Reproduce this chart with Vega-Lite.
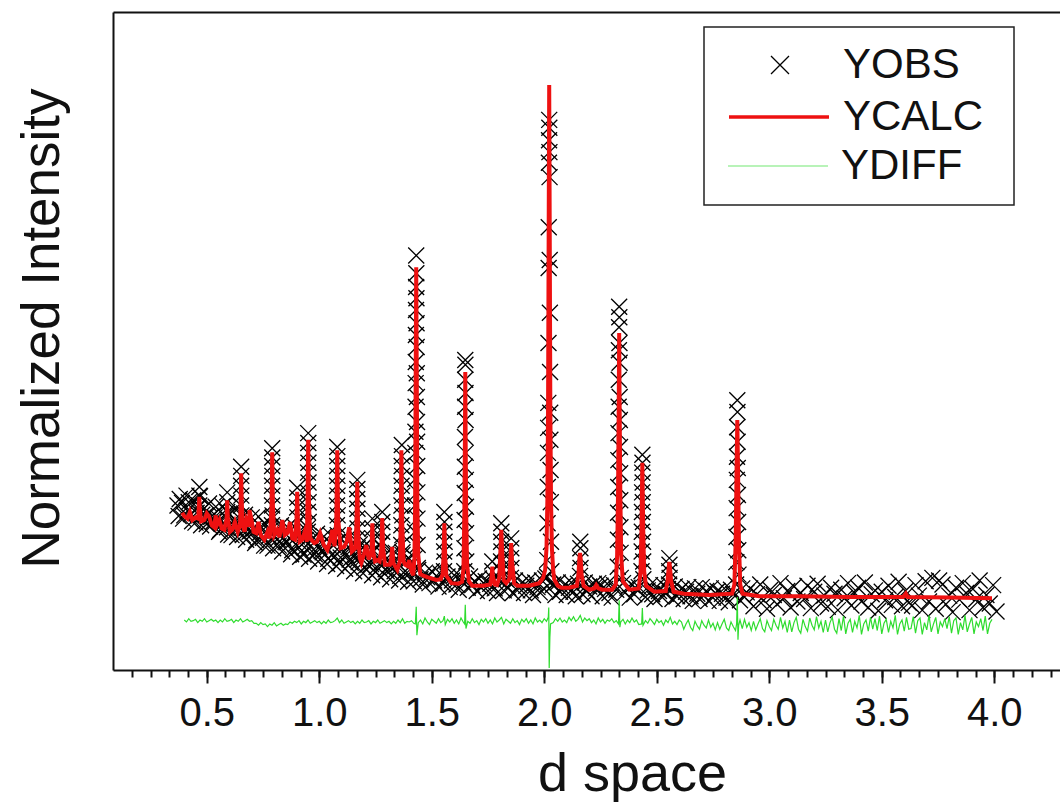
{
"$schema":"https://vega.github.io/schema/vega-lite/v6.json",
"width":947,"height":658,
"autosize":{"type":"none"},
"padding":{"left":113,"top":12,"right":0,"bottom":134},
"background":"white",
"config":{"view":{"stroke":null},"font":"Liberation Sans"},
"datasets":{
"obs":[
{"d":0.37,"y":25.0},{"d":0.38,"y":26.0},{"d":0.39,"y":25.4},{"d":0.40,"y":23.5},{"d":0.41,"y":26.5},{"d":0.42,"y":25.5},{"d":0.43,"y":23.7},{"d":0.44,"y":25.8},{"d":0.45,"y":22.4},{"d":0.46,"y":24.6},{"d":0.47,"y":26.4},{"d":0.48,"y":23.6},{"d":0.49,"y":24.6},{"d":0.50,"y":22.2},{"d":0.51,"y":25.3},{"d":0.52,"y":23.3},{"d":0.53,"y":22.6},{"d":0.54,"y":24.8},{"d":0.55,"y":23.1},{"d":0.56,"y":21.3},{"d":0.57,"y":24.9},{"d":0.58,"y":23.4},{"d":0.59,"y":21.7},{"d":0.60,"y":23.8},{"d":0.61,"y":20.5},{"d":0.62,"y":22.7},{"d":0.63,"y":24.6},{"d":0.64,"y":21.8},{"d":0.65,"y":22.9},{"d":0.66,"y":20.5},{"d":0.67,"y":23.6},{"d":0.68,"y":21.6},{"d":0.69,"y":21.0},{"d":0.70,"y":23.2},{"d":0.71,"y":21.5},{"d":0.72,"y":19.7},{"d":0.73,"y":23.3},{"d":0.74,"y":21.8},{"d":0.75,"y":20.1},{"d":0.76,"y":22.2},{"d":0.77,"y":18.9},{"d":0.78,"y":21.1},{"d":0.79,"y":23.0},{"d":0.80,"y":20.2},{"d":0.81,"y":21.3},{"d":0.82,"y":18.9},{"d":0.83,"y":22.0},{"d":0.84,"y":20.1},{"d":0.85,"y":19.5},{"d":0.86,"y":21.7},{"d":0.87,"y":20.0},{"d":0.88,"y":18.2},{"d":0.89,"y":21.8},{"d":0.90,"y":20.3},{"d":0.91,"y":18.6},{"d":0.92,"y":20.7},{"d":0.93,"y":17.5},{"d":0.94,"y":19.7},{"d":0.95,"y":21.6},{"d":0.96,"y":18.8},{"d":0.97,"y":19.9},{"d":0.98,"y":17.6},{"d":0.99,"y":20.7},{"d":1.00,"y":18.7},{"d":1.01,"y":18.1},{"d":1.02,"y":20.3},{"d":1.03,"y":18.7},{"d":1.04,"y":16.9},{"d":1.05,"y":20.5},{"d":1.06,"y":19.0},{"d":1.07,"y":17.3},{"d":1.08,"y":19.5},{"d":1.09,"y":16.2},{"d":1.10,"y":18.4},{"d":1.11,"y":20.3},{"d":1.12,"y":17.5},{"d":1.13,"y":18.7},{"d":1.14,"y":16.3},{"d":1.15,"y":19.4},{"d":1.16,"y":17.4},{"d":1.17,"y":16.8},{"d":1.18,"y":19.1},{"d":1.19,"y":17.4},{"d":1.20,"y":15.6},{"d":1.21,"y":19.2},{"d":1.22,"y":17.7},{"d":1.23,"y":16.1},{"d":1.24,"y":18.2},{"d":1.25,"y":14.9},{"d":1.26,"y":17.1},{"d":1.27,"y":19.0},{"d":1.28,"y":16.3},{"d":1.29,"y":17.4},{"d":1.30,"y":15.0},{"d":1.31,"y":18.1},{"d":1.32,"y":16.1},{"d":1.33,"y":15.6},{"d":1.34,"y":17.8},{"d":1.35,"y":16.1},{"d":1.36,"y":14.3},{"d":1.37,"y":17.9},{"d":1.38,"y":16.5},{"d":1.39,"y":14.8},{"d":1.40,"y":16.9},
{"d":0.375,"y":23.4},{"d":0.395,"y":23.0},{"d":0.415,"y":24.2},{"d":0.435,"y":22.6},{"d":0.455,"y":23.9},{"d":0.475,"y":22.0},{"d":0.495,"y":23.5},{"d":0.515,"y":21.8},{"d":0.535,"y":23.2},{"d":0.555,"y":21.0},{"d":0.575,"y":22.4},{"d":0.595,"y":20.6},{"d":0.615,"y":22.1},{"d":0.635,"y":20.2},{"d":0.655,"y":21.6},{"d":0.675,"y":19.8},{"d":0.695,"y":21.2},{"d":0.715,"y":19.3},{"d":0.735,"y":20.8},{"d":0.755,"y":18.9},{"d":0.775,"y":20.3},{"d":0.795,"y":18.5},{"d":0.815,"y":19.9},{"d":0.835,"y":18.0},{"d":0.855,"y":19.4},{"d":0.875,"y":17.6},{"d":0.895,"y":19.1},{"d":0.915,"y":17.2},{"d":0.935,"y":18.6},{"d":0.955,"y":16.9},{"d":0.975,"y":18.3},{"d":0.995,"y":16.5},{"d":1.015,"y":17.9},{"d":1.035,"y":16.1},{"d":1.055,"y":17.5},{"d":1.075,"y":15.8},{"d":1.095,"y":17.1},{"d":1.115,"y":15.4},{"d":1.135,"y":16.8},{"d":1.155,"y":15.0},{"d":1.175,"y":16.4},{"d":1.195,"y":14.7},{"d":1.215,"y":16.0},{"d":1.235,"y":14.4},{"d":1.255,"y":15.7},{"d":1.275,"y":14.1},{"d":1.295,"y":15.3},{"d":1.315,"y":13.8},{"d":1.335,"y":15.0},{"d":1.355,"y":13.6},{"d":1.375,"y":14.8},{"d":1.395,"y":13.4},
{"d":1.41,"y":15.0},{"d":1.42,"y":13.5},{"d":1.44,"y":15.2},{"d":1.45,"y":13.8},{"d":1.46,"y":13.0},{"d":1.47,"y":14.8},{"d":1.48,"y":14.1},{"d":1.49,"y":13.2},{"d":1.50,"y":15.0},{"d":1.51,"y":13.6},{"d":1.52,"y":14.3},{"d":1.53,"y":12.7},{"d":1.54,"y":14.6},{"d":1.55,"y":13.1},{"d":1.57,"y":14.2},{"d":1.58,"y":12.6},{"d":1.59,"y":13.6},{"d":1.60,"y":14.4},{"d":1.61,"y":13.0},{"d":1.62,"y":12.2},{"d":1.63,"y":14.1},{"d":1.64,"y":13.3},{"d":1.66,"y":12.5},{"d":1.67,"y":14.2},{"d":1.68,"y":12.9},{"d":1.69,"y":13.5},{"d":1.70,"y":12.0},{"d":1.71,"y":13.9},{"d":1.72,"y":12.5},{"d":1.73,"y":13.2},{"d":1.74,"y":13.5},{"d":1.75,"y":12.0},{"d":1.76,"y":13.1},{"d":1.77,"y":13.9},{"d":1.78,"y":12.4},{"d":1.79,"y":11.7},{"d":1.80,"y":13.6},{"d":1.82,"y":12.1},{"d":1.83,"y":13.8},{"d":1.84,"y":12.5},{"d":1.86,"y":11.7},{"d":1.87,"y":13.6},{"d":1.88,"y":12.1},{"d":1.89,"y":12.9},{"d":1.90,"y":13.2},{"d":1.91,"y":11.7},{"d":1.92,"y":12.8},{"d":1.93,"y":13.6},{"d":1.94,"y":12.1},{"d":1.95,"y":11.4},{"d":1.96,"y":13.3},{"d":1.97,"y":12.6},{"d":1.98,"y":11.8},{"d":1.99,"y":13.6},{"d":2.00,"y":12.3},{"d":2.005,"y":13.9},{"d":2.038,"y":12.9},{"d":2.04,"y":13.0},{"d":2.05,"y":11.4},{"d":2.06,"y":13.3},{"d":2.07,"y":11.9},{"d":2.08,"y":12.6},{"d":2.09,"y":12.9},{"d":2.10,"y":11.4},{"d":2.11,"y":12.5},{"d":2.12,"y":13.3},{"d":2.13,"y":11.9},{"d":2.14,"y":11.2},{"d":2.15,"y":13.1},{"d":2.17,"y":11.5},{"d":2.18,"y":13.3},{"d":2.19,"y":12.0},{"d":2.20,"y":12.7},{"d":2.21,"y":11.2},{"d":2.22,"y":13.1},{"d":2.23,"y":12.4},{"d":2.24,"y":13.2},{"d":2.25,"y":12.8},{"d":2.26,"y":11.2},{"d":2.27,"y":12.3},{"d":2.28,"y":13.1},{"d":2.29,"y":11.7},{"d":2.30,"y":11.0},{"d":2.31,"y":12.9},{"d":2.32,"y":12.2},{"d":2.35,"y":13.2},{"d":2.36,"y":11.8},{"d":2.37,"y":12.5},{"d":2.38,"y":11.0},{"d":2.39,"y":12.9},{"d":2.40,"y":11.5},{"d":2.41,"y":12.3},{"d":2.42,"y":12.6},{"d":2.45,"y":11.1},{"d":2.46,"y":12.1},{"d":2.47,"y":12.9},{"d":2.48,"y":11.5},{"d":2.49,"y":10.8},{"d":2.50,"y":12.7},{"d":2.51,"y":12.0},{"d":2.52,"y":11.2},{"d":2.53,"y":12.9},{"d":2.54,"y":11.6},{"d":2.55,"y":12.3},{"d":2.57,"y":10.8},{"d":2.58,"y":12.7},{"d":2.59,"y":11.2},{"d":2.60,"y":12.0},{"d":2.61,"y":12.3},{"d":2.62,"y":10.8},{"d":2.63,"y":11.9},{"d":2.64,"y":12.6},{"d":2.65,"y":11.2},{"d":2.66,"y":10.5},{"d":2.67,"y":12.4},{"d":2.68,"y":11.6},{"d":2.69,"y":10.8},{"d":2.70,"y":12.6},{"d":2.71,"y":11.3},{"d":2.72,"y":12.0},{"d":2.73,"y":10.5},{"d":2.74,"y":12.4},{"d":2.75,"y":11.0},{"d":2.76,"y":11.7},{"d":2.77,"y":12.0},{"d":2.78,"y":10.5},{"d":2.79,"y":11.6},{"d":2.80,"y":12.4},{"d":2.81,"y":11.0},{"d":2.82,"y":10.3},{"d":2.83,"y":12.2},{"d":2.84,"y":11.5},{"d":2.87,"y":10.6},{"d":2.88,"y":12.4},{"d":2.89,"y":11.1},{"d":2.90,"y":11.8},
{"d":2.915,"y":12.4},{"d":2.93,"y":9.7},{"d":2.945,"y":11.5},{"d":2.96,"y":13.0},{"d":2.975,"y":10.6},{"d":2.99,"y":9.3},{"d":3.005,"y":12.2},{"d":3.02,"y":11.4},{"d":3.035,"y":10.0},{"d":3.05,"y":13.2},{"d":3.065,"y":10.9},{"d":3.08,"y":12.0},{"d":3.095,"y":9.5},{"d":3.11,"y":12.7},{"d":3.125,"y":10.4},{"d":3.14,"y":11.7},{"d":3.155,"y":10.8},{"d":3.17,"y":12.8},{"d":3.185,"y":9.4},{"d":3.2,"y":11.9},{"d":3.215,"y":13.1},{"d":3.23,"y":10.1},{"d":3.245,"y":11.3},{"d":3.26,"y":9.6},{"d":3.275,"y":12.5},{"d":3.29,"y":11.6},{"d":3.305,"y":9.1},{"d":3.32,"y":12.2},{"d":3.335,"y":10.9},{"d":3.35,"y":13.2},{"d":3.365,"y":9.8},{"d":3.38,"y":11.7},{"d":3.395,"y":12.5},{"d":3.41,"y":10.4},{"d":3.425,"y":13.3},{"d":3.44,"y":9.5},{"d":3.455,"y":11.5},{"d":3.47,"y":12.1},{"d":3.485,"y":9.0},{"d":3.5,"y":11.9},{"d":3.515,"y":10.6},{"d":3.53,"y":12.8},{"d":3.545,"y":9.9},{"d":3.56,"y":11.1},{"d":3.575,"y":13.4},{"d":3.59,"y":9.7},{"d":3.605,"y":12.0},{"d":3.62,"y":10.2},{"d":3.635,"y":9.8},{"d":3.65,"y":12.9},{"d":3.665,"y":11.3},{"d":3.68,"y":9.1},{"d":3.695,"y":13.5},{"d":3.71,"y":10.4},{"d":3.725,"y":14.0},{"d":3.74,"y":9.3},{"d":3.755,"y":13.6},{"d":3.77,"y":13.0},{"d":3.785,"y":10.0},{"d":3.8,"y":11.3},{"d":3.815,"y":8.8},{"d":3.83,"y":12.5},{"d":3.845,"y":10.7},{"d":3.86,"y":13.2},{"d":3.875,"y":11.7},{"d":3.89,"y":9.1},{"d":3.905,"y":12.3},{"d":3.92,"y":10.8},{"d":3.935,"y":13.6},{"d":3.95,"y":9.5},{"d":3.965,"y":11.4},{"d":3.98,"y":10.1},{"d":3.995,"y":12.9},{"d":4.01,"y":8.9},
{"d":2.022,"y":83.6},{"d":2.0225,"y":82.4},{"d":2.0213,"y":80.5},{"d":2.023,"y":78.7},{"d":2.0207,"y":77.1},{"d":2.0236,"y":74.9},{"d":2.02,"y":67.3},{"d":2.0243,"y":62.3},{"d":2.0195,"y":61.1},{"d":2.025,"y":54.3},{"d":2.0188,"y":49.7},{"d":2.0258,"y":45.3},{"d":2.018,"y":40.6},{"d":2.0265,"y":39.1},{"d":2.0173,"y":36.8},{"d":2.0272,"y":35.0},{"d":2.0166,"y":33.0},{"d":2.028,"y":30.4},{"d":2.0158,"y":27.8},{"d":2.029,"y":25.5},{"d":2.0148,"y":22.3},{"d":2.03,"y":19.5},{"d":2.0135,"y":16.7},{"d":2.0315,"y":15.0},{"d":2.012,"y":14.2},
{"d":1.431,"y":63.0},{"d":1.4315,"y":60.3},{"d":1.4305,"y":58.2},{"d":1.432,"y":56.5},{"d":1.43,"y":54.7},{"d":1.4325,"y":52.7},{"d":1.4295,"y":50.9},{"d":1.433,"y":49.1},{"d":1.429,"y":46.8},{"d":1.4335,"y":45.1},{"d":1.4285,"y":43.6},{"d":1.434,"y":41.5},{"d":1.428,"y":40.0},{"d":1.4345,"y":37.7},{"d":1.4275,"y":36.2},{"d":1.435,"y":34.7},{"d":1.427,"y":33.0},{"d":1.4355,"y":31.0},{"d":1.4265,"y":29.0},{"d":1.436,"y":27.0},{"d":1.426,"y":25.0},{"d":1.4365,"y":23.0},{"d":1.4255,"y":21.0},{"d":1.4372,"y":19.0},{"d":1.4248,"y":17.0},{"d":1.438,"y":15.5},
{"d":1.649,"y":47.1},{"d":1.6495,"y":46.4},{"d":1.6485,"y":44.1},{"d":1.65,"y":42.1},{"d":1.648,"y":40.0},{"d":1.6505,"y":38.0},{"d":1.6475,"y":35.4},{"d":1.651,"y":33.0},{"d":1.647,"y":30.9},{"d":1.6515,"y":28.9},{"d":1.6465,"y":26.9},{"d":1.652,"y":24.8},{"d":1.646,"y":22.8},{"d":1.6526,"y":20.8},{"d":1.6454,"y":18.5},{"d":1.6533,"y":16.5},{"d":1.6447,"y":15.0},
{"d":2.333,"y":55.2},{"d":2.3336,"y":53.6},{"d":2.3324,"y":52.1},{"d":2.3342,"y":49.7},{"d":2.3318,"y":48.6},{"d":2.3348,"y":46.7},{"d":2.3312,"y":44.1},{"d":2.3354,"y":41.5},{"d":2.3306,"y":40.0},{"d":2.336,"y":38.0},{"d":2.33,"y":36.0},{"d":2.3366,"y":33.9},{"d":2.3294,"y":31.9},{"d":2.3372,"y":29.9},{"d":2.3288,"y":27.8},{"d":2.3378,"y":25.8},{"d":2.3282,"y":23.9},{"d":2.3385,"y":21.7},{"d":2.3275,"y":19.8},{"d":2.3392,"y":17.8},{"d":2.3268,"y":15.7},{"d":2.34,"y":14.0},
{"d":2.436,"y":32.7},{"d":2.4366,"y":31.5},{"d":2.4354,"y":30.0},{"d":2.4372,"y":28.5},{"d":2.4348,"y":27.0},{"d":2.4378,"y":25.5},{"d":2.4342,"y":24.0},{"d":2.4384,"y":22.5},{"d":2.4336,"y":21.0},{"d":2.439,"y":19.5},{"d":2.433,"y":18.0},{"d":2.4397,"y":16.5},{"d":2.4323,"y":15.0},{"d":2.4405,"y":13.8},
{"d":2.858,"y":41.0},{"d":2.8587,"y":39.2},{"d":2.8573,"y":36.9},{"d":2.8594,"y":34.7},{"d":2.8566,"y":32.4},{"d":2.8601,"y":30.7},{"d":2.8559,"y":28.9},{"d":2.8608,"y":26.6},{"d":2.8552,"y":24.6},{"d":2.8615,"y":22.5},{"d":2.8545,"y":20.2},{"d":2.8623,"y":18.2},{"d":2.8537,"y":16.4},{"d":2.8632,"y":14.5},{"d":2.8528,"y":13.0},
{"d":1.367,"y":34.2},{"d":1.3675,"y":32.5},{"d":1.3665,"y":31.0},{"d":1.368,"y":29.5},{"d":1.366,"y":28.0},{"d":1.3685,"y":26.5},{"d":1.3655,"y":25.0},{"d":1.369,"y":23.5},{"d":1.365,"y":22.0},{"d":1.3695,"y":20.5},{"d":1.3645,"y":19.0},{"d":1.37,"y":17.5},
{"d":2.16,"y":19.5},{"d":2.1606,"y":18.5},{"d":2.1594,"y":17.0},{"d":2.1612,"y":15.5},{"d":2.1588,"y":14.3},
{"d":2.556,"y":17.0},{"d":2.5566,"y":16.0},{"d":2.5554,"y":15.0},{"d":2.5572,"y":14.0},{"d":2.5548,"y":13.0},
{"d":1.556,"y":24.0},{"d":1.5565,"y":22.5},{"d":1.5555,"y":21.0},{"d":1.557,"y":19.5},{"d":1.555,"y":18.0},{"d":1.5575,"y":16.5},{"d":1.5545,"y":15.0},
{"d":1.809,"y":22.3},{"d":1.8095,"y":21.0},{"d":1.8085,"y":19.5},{"d":1.81,"y":18.0},{"d":1.808,"y":16.5},{"d":1.8105,"y":15.0},
{"d":1.853,"y":20.0},{"d":1.8535,"y":18.5},{"d":1.8525,"y":17.0},{"d":1.854,"y":15.5},{"d":1.852,"y":14.0},
{"d":1.769,"y":16.5},{"d":1.7695,"y":15.0},
{"d":0.467,"y":27.8},{"d":0.4673,"y":26.5},{"d":0.4667,"y":25.0},
{"d":0.591,"y":27.0},{"d":0.5913,"y":25.5},{"d":0.5907,"y":24.0},
{"d":0.653,"y":30.9},{"d":0.6533,"y":29.5},{"d":0.6527,"y":28.0},{"d":0.6536,"y":26.5},{"d":0.6524,"y":25.0},{"d":0.6539,"y":23.5},
{"d":0.791,"y":33.7},{"d":0.7913,"y":32.3},{"d":0.7907,"y":31.0},{"d":0.7916,"y":29.5},{"d":0.7904,"y":28.0},{"d":0.7919,"y":26.5},{"d":0.7901,"y":25.0},{"d":0.7922,"y":23.5},{"d":0.7898,"y":22.0},
{"d":0.902,"y":27.7},{"d":0.9024,"y":26.2},{"d":0.9016,"y":24.7},{"d":0.9028,"y":23.2},
{"d":0.951,"y":36.0},{"d":0.9514,"y":34.5},{"d":0.9506,"y":33.0},{"d":0.9518,"y":31.5},{"d":0.9502,"y":30.0},{"d":0.9522,"y":28.5},{"d":0.9498,"y":27.0},{"d":0.9526,"y":25.5},{"d":0.9494,"y":24.0},{"d":0.953,"y":22.5},{"d":0.949,"y":21.0},
{"d":1.08,"y":33.9},{"d":1.0804,"y":32.5},{"d":1.0796,"y":31.0},{"d":1.0808,"y":29.5},{"d":1.0792,"y":28.0},{"d":1.0812,"y":26.5},{"d":1.0788,"y":25.0},{"d":1.0816,"y":23.5},{"d":1.0784,"y":22.0},{"d":1.082,"y":20.5},
{"d":1.169,"y":28.9},{"d":1.1694,"y":27.5},{"d":1.1686,"y":26.0},{"d":1.1698,"y":24.5},{"d":1.1682,"y":23.0},{"d":1.1702,"y":21.5},{"d":1.1678,"y":20.0},{"d":1.1706,"y":18.5},
{"d":1.236,"y":23.0},{"d":1.2364,"y":21.5},{"d":1.2356,"y":20.0},
{"d":1.28,"y":24.0},{"d":1.2804,"y":22.5},{"d":1.2796,"y":21.0},{"d":1.2808,"y":19.5}
],
"calc":[
{"d":0.391,"y":23.9},{"d":0.4,"y":23.4},{"d":0.415,"y":23.0},{"d":0.425,"y":24.0},{"d":0.436,"y":22.8},{"d":0.45,"y":23.2},{"d":0.462,"y":23.0},{"d":0.465,"y":25.0},{"d":0.467,"y":26.3},{"d":0.469,"y":24.5},{"d":0.475,"y":22.6},{"d":0.489,"y":22.8},{"d":0.5,"y":23.8},{"d":0.511,"y":23.3},{"d":0.522,"y":22.0},{"d":0.533,"y":21.7},{"d":0.54,"y":23.5},{"d":0.545,"y":22.0},{"d":0.556,"y":22.8},{"d":0.567,"y":21.5},{"d":0.578,"y":21.3},{"d":0.588,"y":23.0},{"d":0.591,"y":25.8},{"d":0.594,"y":23.0},{"d":0.603,"y":21.0},{"d":0.613,"y":21.3},{"d":0.625,"y":22.5},{"d":0.638,"y":21.0},{"d":0.648,"y":22.0},{"d":0.651,"y":26.0},{"d":0.653,"y":29.9},{"d":0.655,"y":26.0},{"d":0.66,"y":22.0},{"d":0.668,"y":21.0},{"d":0.676,"y":22.8},{"d":0.687,"y":21.8},{"d":0.69,"y":24.3},{"d":0.698,"y":23.0},{"d":0.708,"y":21.0},{"d":0.72,"y":20.8},{"d":0.73,"y":22.5},{"d":0.74,"y":20.5},{"d":0.756,"y":19.8},{"d":0.77,"y":21.0},{"d":0.78,"y":20.0},{"d":0.788,"y":25.0},{"d":0.791,"y":33.1},{"d":0.794,"y":25.0},{"d":0.8,"y":20.5},{"d":0.813,"y":21.3},{"d":0.823,"y":20.2},{"d":0.836,"y":22.8},{"d":0.847,"y":20.5},{"d":0.858,"y":20.8},{"d":0.87,"y":22.5},{"d":0.88,"y":20.0},{"d":0.892,"y":19.8},{"d":0.899,"y":23.0},{"d":0.902,"y":27.1},{"d":0.905,"y":23.0},{"d":0.913,"y":19.5},{"d":0.924,"y":19.8},{"d":0.935,"y":21.0},{"d":0.945,"y":19.5},{"d":0.948,"y":26.0},{"d":0.951,"y":35.0},{"d":0.954,"y":26.0},{"d":0.96,"y":20.0},{"d":0.978,"y":19.3},{"d":0.99,"y":19.5},{"d":1.004,"y":20.8},{"d":1.02,"y":19.0},{"d":1.036,"y":18.2},{"d":1.047,"y":19.5},{"d":1.058,"y":21.3},{"d":1.068,"y":18.8},{"d":1.076,"y":23.0},{"d":1.08,"y":33.4},{"d":1.084,"y":23.0},{"d":1.095,"y":18.5},{"d":1.111,"y":18.7},{"d":1.122,"y":19.5},{"d":1.133,"y":21.7},{"d":1.145,"y":18.0},{"d":1.16,"y":18.5},{"d":1.165,"y":22.0},{"d":1.169,"y":28.6},{"d":1.173,"y":21.0},{"d":1.18,"y":17.0},{"d":1.187,"y":16.3},{"d":1.198,"y":17.5},{"d":1.209,"y":19.0},{"d":1.22,"y":16.8},{"d":1.232,"y":18.0},{"d":1.236,"y":22.3},{"d":1.24,"y":18.0},{"d":1.248,"y":16.5},{"d":1.258,"y":16.7},{"d":1.268,"y":16.5},{"d":1.276,"y":18.5},{"d":1.28,"y":23.1},{"d":1.284,"y":18.5},{"d":1.292,"y":16.0},{"d":1.302,"y":16.0},{"d":1.314,"y":16.0},{"d":1.32,"y":17.0},{"d":1.324,"y":18.7},{"d":1.33,"y":16.2},{"d":1.347,"y":15.2},{"d":1.358,"y":16.5},{"d":1.362,"y":22.0},{"d":1.365,"y":33.4},{"d":1.369,"y":22.0},{"d":1.375,"y":16.5},{"d":1.382,"y":16.0},{"d":1.392,"y":15.8},{"d":1.4,"y":16.7},{"d":1.41,"y":15.0},{"d":1.418,"y":14.4},{"d":1.423,"y":17.0},{"d":1.426,"y":25.0},{"d":1.428,"y":40.0},{"d":1.431,"y":61.2},{"d":1.434,"y":40.0},{"d":1.436,"y":25.0},{"d":1.44,"y":17.5},{"d":1.449,"y":14.6},{"d":1.465,"y":14.3},{"d":1.48,"y":14.1},{"d":1.5,"y":13.9},{"d":1.52,"y":13.7},{"d":1.54,"y":13.8},{"d":1.548,"y":14.5},{"d":1.552,"y":17.0},{"d":1.556,"y":22.3},{"d":1.56,"y":17.0},{"d":1.565,"y":14.3},{"d":1.587,"y":13.2},{"d":1.618,"y":13.1},{"d":1.635,"y":13.4},{"d":1.641,"y":15.5},{"d":1.645,"y":24.0},{"d":1.647,"y":33.0},{"d":1.649,"y":45.3},{"d":1.651,"y":33.0},{"d":1.653,"y":24.0},{"d":1.657,"y":16.0},{"d":1.665,"y":13.5},{"d":1.68,"y":12.8},{"d":1.729,"y":12.8},{"d":1.76,"y":13.0},{"d":1.766,"y":14.2},{"d":1.769,"y":15.7},{"d":1.772,"y":14.2},{"d":1.78,"y":13.0},{"d":1.79,"y":12.9},{"d":1.8,"y":14.0},{"d":1.805,"y":18.0},{"d":1.809,"y":21.3},{"d":1.813,"y":18.0},{"d":1.82,"y":13.6},{"d":1.831,"y":13.2},{"d":1.845,"y":13.8},{"d":1.849,"y":16.5},{"d":1.853,"y":19.3},{"d":1.857,"y":16.5},{"d":1.866,"y":13.2},{"d":1.88,"y":12.8},{"d":1.933,"y":12.8},{"d":1.978,"y":13.2},{"d":1.995,"y":14.0},{"d":2.004,"y":15.2},{"d":2.01,"y":18.5},{"d":2.014,"y":26.0},{"d":2.017,"y":40.0},{"d":2.0195,"y":65.0},{"d":2.022,"y":88.9},{"d":2.0245,"y":65.0},{"d":2.027,"y":40.0},{"d":2.03,"y":26.0},{"d":2.034,"y":18.5},{"d":2.04,"y":15.0},{"d":2.044,"y":13.8},{"d":2.06,"y":12.8},{"d":2.076,"y":12.5},{"d":2.111,"y":12.5},{"d":2.145,"y":12.8},{"d":2.152,"y":14.5},{"d":2.156,"y":16.8},{"d":2.159,"y":17.8},{"d":2.162,"y":16.8},{"d":2.166,"y":14.5},{"d":2.175,"y":12.8},{"d":2.2,"y":12.2},{"d":2.222,"y":12.4},{"d":2.231,"y":12.9},{"d":2.24,"y":12.4},{"d":2.258,"y":12.2},{"d":2.302,"y":12.2},{"d":2.318,"y":13.0},{"d":2.324,"y":17.5},{"d":2.328,"y":27.0},{"d":2.331,"y":40.0},{"d":2.333,"y":51.2},{"d":2.335,"y":40.0},{"d":2.338,"y":27.0},{"d":2.342,"y":17.5},{"d":2.349,"y":13.5},{"d":2.378,"y":12.2},{"d":2.42,"y":12.4},{"d":2.428,"y":15.0},{"d":2.432,"y":21.0},{"d":2.436,"y":31.5},{"d":2.44,"y":21.0},{"d":2.444,"y":15.0},{"d":2.452,"y":12.8},{"d":2.489,"y":11.9},{"d":2.54,"y":12.0},{"d":2.548,"y":13.5},{"d":2.553,"y":15.5},{"d":2.556,"y":16.4},{"d":2.559,"y":15.5},{"d":2.564,"y":13.5},{"d":2.575,"y":11.9},{"d":2.622,"y":11.6},{"d":2.733,"y":11.4},{"d":2.835,"y":11.6},{"d":2.845,"y":13.0},{"d":2.851,"y":20.0},{"d":2.855,"y":31.0},{"d":2.858,"y":38.0},{"d":2.861,"y":31.0},{"d":2.865,"y":20.0},{"d":2.871,"y":13.0},{"d":2.881,"y":11.6},{"d":2.956,"y":11.2},{"d":3.133,"y":11.2},{"d":3.356,"y":11.1},{"d":3.595,"y":11.1},{"d":3.607,"y":11.6},{"d":3.615,"y":11.1},{"d":3.8,"y":11.0},{"d":3.99,"y":10.9}
],
"diff":[
{"d":0.40,"y":7.6},{"d":0.41,"y":7.3},{"d":0.42,"y":7.8},{"d":0.43,"y":7.4},{"d":0.44,"y":7.5},{"d":0.45,"y":7.7},{"d":0.46,"y":7.2},{"d":0.47,"y":7.6},{"d":0.48,"y":7.4},{"d":0.49,"y":7.8},{"d":0.50,"y":7.3},{"d":0.51,"y":7.5},{"d":0.52,"y":7.7},{"d":0.53,"y":7.4},{"d":0.54,"y":7.6},{"d":0.55,"y":7.2},{"d":0.56,"y":7.6},{"d":0.57,"y":7.3},{"d":0.58,"y":7.8},{"d":0.59,"y":7.4},{"d":0.60,"y":7.5},{"d":0.61,"y":7.7},{"d":0.62,"y":7.2},{"d":0.63,"y":7.6},{"d":0.64,"y":7.4},{"d":0.65,"y":7.8},{"d":0.66,"y":7.3},{"d":0.67,"y":7.5},{"d":0.68,"y":7.7},{"d":0.69,"y":7.4},{"d":0.70,"y":7.5},{"d":0.71,"y":7.1},{"d":0.72,"y":7.1},{"d":0.73,"y":6.8},{"d":0.74,"y":7.2},{"d":0.75,"y":6.9},{"d":0.76,"y":7.0},{"d":0.77,"y":6.6},{"d":0.78,"y":7.0},{"d":0.79,"y":6.8},{"d":0.80,"y":7.2},{"d":0.81,"y":6.7},{"d":0.82,"y":6.9},{"d":0.83,"y":7.1},{"d":0.84,"y":6.8},{"d":0.85,"y":7.0},{"d":0.86,"y":6.9},{"d":0.87,"y":7.3},{"d":0.88,"y":7.1},{"d":0.89,"y":7.4},{"d":0.90,"y":7.2},{"d":0.91,"y":7.5},{"d":0.92,"y":7.0},{"d":0.93,"y":7.4},{"d":0.94,"y":7.2},{"d":0.95,"y":7.6},{"d":0.96,"y":7.1},{"d":0.97,"y":7.3},{"d":0.98,"y":7.5},{"d":0.99,"y":7.2},{"d":1.00,"y":7.4},{"d":1.01,"y":7.0},{"d":1.02,"y":7.4},{"d":1.03,"y":7.1},{"d":1.04,"y":7.6},{"d":1.05,"y":7.2},{"d":1.06,"y":7.3},{"d":1.07,"y":7.5},{"d":1.08,"y":7.9},{"d":1.09,"y":7.2},{"d":1.10,"y":7.6},{"d":1.11,"y":7.1},{"d":1.12,"y":7.3},{"d":1.13,"y":7.5},{"d":1.14,"y":7.2},{"d":1.15,"y":7.4},{"d":1.16,"y":7.0},{"d":1.17,"y":7.4},{"d":1.18,"y":7.1},{"d":1.19,"y":7.6},{"d":1.20,"y":7.2},{"d":1.21,"y":7.3},{"d":1.22,"y":7.5},{"d":1.23,"y":7.0},{"d":1.24,"y":7.4},{"d":1.25,"y":7.2},{"d":1.26,"y":7.6},{"d":1.27,"y":7.1},{"d":1.28,"y":7.3},{"d":1.29,"y":7.5},{"d":1.30,"y":7.2},{"d":1.31,"y":7.4},{"d":1.32,"y":7.0},{"d":1.33,"y":7.4},{"d":1.34,"y":7.1},{"d":1.35,"y":7.6},{"d":1.36,"y":7.2},{"d":1.37,"y":7.8},{"d":1.38,"y":7.1},{"d":1.39,"y":7.4},{"d":1.40,"y":7.3},{"d":1.41,"y":7.5},{"d":1.42,"y":7.1},{"d":1.427,"y":7.0},{"d":1.431,"y":9.6},{"d":1.434,"y":5.3},{"d":1.44,"y":7.2},
{"d":1.45,"y":7.6},{"d":1.46,"y":7.0},{"d":1.47,"y":7.9},{"d":1.48,"y":7.3},{"d":1.49,"y":6.9},{"d":1.50,"y":7.7},{"d":1.51,"y":7.4},{"d":1.52,"y":7.1},{"d":1.53,"y":7.8},{"d":1.54,"y":7.2},{"d":1.55,"y":7.5},{"d":1.556,"y":8.2},{"d":1.56,"y":6.9},{"d":1.57,"y":7.7},{"d":1.58,"y":7.3},{"d":1.59,"y":7.8},{"d":1.60,"y":7.1},{"d":1.61,"y":7.6},{"d":1.62,"y":7.0},{"d":1.63,"y":7.9},{"d":1.64,"y":7.3},{"d":1.646,"y":7.0},{"d":1.649,"y":9.9},{"d":1.652,"y":6.3},{"d":1.66,"y":7.4},{"d":1.67,"y":7.1},{"d":1.68,"y":7.8},{"d":1.69,"y":7.2},{"d":1.70,"y":7.5},{"d":1.71,"y":6.9},{"d":1.72,"y":7.7},{"d":1.73,"y":7.3},{"d":1.74,"y":7.8},{"d":1.75,"y":7.1},{"d":1.76,"y":7.6},{"d":1.77,"y":7.0},{"d":1.78,"y":7.9},{"d":1.79,"y":7.3},{"d":1.80,"y":7.6},{"d":1.81,"y":8.0},{"d":1.82,"y":7.0},{"d":1.83,"y":7.7},{"d":1.84,"y":7.4},{"d":1.85,"y":7.1},{"d":1.86,"y":7.8},{"d":1.87,"y":7.2},{"d":1.88,"y":7.5},{"d":1.89,"y":6.9},{"d":1.90,"y":7.7},{"d":1.91,"y":7.3},{"d":1.92,"y":7.8},{"d":1.93,"y":7.1},{"d":1.94,"y":7.6},{"d":1.95,"y":7.0},{"d":1.96,"y":7.9},{"d":1.97,"y":7.3},{"d":1.98,"y":7.6},{"d":1.99,"y":7.2},{"d":2.00,"y":7.8},{"d":2.01,"y":7.4},{"d":2.018,"y":8.0},{"d":2.02,"y":9.5},{"d":2.022,"y":0.3},{"d":2.025,"y":5.0},{"d":2.028,"y":7.0},{"d":2.04,"y":7.2},{"d":2.05,"y":7.8},{"d":2.06,"y":7.4},{"d":2.07,"y":7.9},{"d":2.08,"y":7.3},{"d":2.09,"y":7.6},{"d":2.10,"y":7.2},{"d":2.11,"y":8.0},{"d":2.12,"y":7.5},{"d":2.13,"y":8.1},{"d":2.14,"y":7.4},{"d":2.15,"y":7.7},{"d":2.16,"y":8.3},{"d":2.17,"y":7.3},{"d":2.18,"y":7.9},{"d":2.19,"y":7.5},{"d":2.20,"y":7.8},{"d":2.21,"y":7.2},{"d":2.22,"y":7.6},{"d":2.23,"y":7.0},{"d":2.24,"y":7.9},{"d":2.25,"y":7.3},{"d":2.26,"y":7.7},{"d":2.27,"y":7.1},{"d":2.28,"y":7.6},{"d":2.29,"y":7.4},{"d":2.30,"y":7.8},{"d":2.31,"y":7.2},{"d":2.32,"y":7.5},{"d":2.33,"y":7.0},{"d":2.333,"y":10.6},{"d":2.336,"y":6.5},{"d":2.34,"y":7.3},{"d":2.35,"y":7.7},{"d":2.36,"y":7.0},{"d":2.37,"y":7.6},{"d":2.38,"y":7.2},{"d":2.39,"y":7.9},{"d":2.40,"y":7.3},{"d":2.41,"y":7.6},{"d":2.42,"y":6.9},{"d":2.433,"y":7.0},{"d":2.436,"y":9.4},{"d":2.439,"y":6.8},{"d":2.45,"y":7.5},{"d":2.46,"y":7.1},{"d":2.47,"y":7.8},{"d":2.48,"y":7.4},{"d":2.49,"y":6.9},{"d":2.50,"y":7.7},{"d":2.51,"y":7.2},{"d":2.52,"y":7.5},{"d":2.53,"y":6.8},{"d":2.54,"y":7.6},{"d":2.55,"y":7.2},{"d":2.56,"y":8.0},{"d":2.57,"y":7.0},{"d":2.58,"y":7.4},{"d":2.59,"y":6.9},{"d":2.60,"y":7.6},
{"d":2.61,"y":7.3},{"d":2.62,"y":6.2},{"d":2.63,"y":7.0},{"d":2.64,"y":7.6},{"d":2.65,"y":6.5},{"d":2.66,"y":6.0},{"d":2.67,"y":7.4},{"d":2.68,"y":6.7},{"d":2.69,"y":6.2},{"d":2.70,"y":7.5},{"d":2.71,"y":6.8},{"d":2.72,"y":6.4},{"d":2.73,"y":7.6},{"d":2.74,"y":6.5},{"d":2.75,"y":7.1},{"d":2.76,"y":6.1},{"d":2.77,"y":7.2},{"d":2.78,"y":6.2},{"d":2.79,"y":7.0},{"d":2.80,"y":7.7},{"d":2.81,"y":6.4},{"d":2.82,"y":6.0},{"d":2.83,"y":7.3},{"d":2.84,"y":6.6},{"d":2.85,"y":6.0},{"d":2.855,"y":7.0},{"d":2.858,"y":11.1},{"d":2.861,"y":4.6},{"d":2.864,"y":6.8},{"d":2.87,"y":7.6},{"d":2.88,"y":6.3},{"d":2.89,"y":7.7},{"d":2.90,"y":6.5},{"d":2.91,"y":7.2},{"d":2.92,"y":6.0},{"d":2.93,"y":7.4},{"d":2.94,"y":6.1},{"d":2.95,"y":7.0},{"d":2.96,"y":7.8},{"d":2.97,"y":6.3},{"d":2.98,"y":5.8},{"d":2.99,"y":7.5},{"d":3.00,"y":6.6},{"d":3.01,"y":6.0},{"d":3.02,"y":7.7},{"d":3.03,"y":6.8},{"d":3.04,"y":6.2},{"d":3.05,"y":8.0},{"d":3.06,"y":6.4},{"d":3.07,"y":7.4},{"d":3.08,"y":5.7},{"d":3.09,"y":7.6},{"d":3.10,"y":5.8},{"d":3.11,"y":7.2},{"d":3.12,"y":8.0},{"d":3.13,"y":6.2},{"d":3.14,"y":5.6},{"d":3.15,"y":7.7},{"d":3.16,"y":6.6},{"d":3.17,"y":5.9},{"d":3.18,"y":7.9},{"d":3.19,"y":6.8},{"d":3.20,"y":6.1},{"d":3.21,"y":8.1},{"d":3.22,"y":6.4},{"d":3.23,"y":7.4},{"d":3.24,"y":5.7},{"d":3.25,"y":7.6},{"d":3.26,"y":5.8},{"d":3.27,"y":7.2},{"d":3.28,"y":8.0},{"d":3.29,"y":6.2},{"d":3.30,"y":5.6},{"d":3.31,"y":7.8},{"d":3.32,"y":6.0},{"d":3.33,"y":8.2},{"d":3.34,"y":5.5},{"d":3.35,"y":7.1},{"d":3.36,"y":7.7},{"d":3.37,"y":5.7},{"d":3.38,"y":7.4},{"d":3.39,"y":6.4},{"d":3.40,"y":8.3},{"d":3.41,"y":5.4},{"d":3.42,"y":7.0},{"d":3.43,"y":7.6},{"d":3.44,"y":5.9},{"d":3.45,"y":8.0},{"d":3.46,"y":6.2},{"d":3.47,"y":7.8},{"d":3.48,"y":6.0},{"d":3.49,"y":8.2},{"d":3.50,"y":5.5},{"d":3.51,"y":7.1},{"d":3.52,"y":7.7},{"d":3.53,"y":5.7},{"d":3.54,"y":7.4},{"d":3.55,"y":6.4},{"d":3.56,"y":8.3},{"d":3.57,"y":5.4},{"d":3.58,"y":7.0},{"d":3.59,"y":7.6},{"d":3.60,"y":5.9},{"d":3.61,"y":8.0},{"d":3.62,"y":6.2},{"d":3.63,"y":6.3},{"d":3.64,"y":8.1},{"d":3.65,"y":5.6},{"d":3.66,"y":7.5},{"d":3.67,"y":7.9},{"d":3.68,"y":5.4},{"d":3.69,"y":7.2},{"d":3.70,"y":6.1},{"d":3.71,"y":8.3},{"d":3.72,"y":5.8},{"d":3.73,"y":7.0},{"d":3.74,"y":8.0},{"d":3.75,"y":5.5},{"d":3.76,"y":7.3},{"d":3.77,"y":6.6},{"d":3.78,"y":7.8},{"d":3.79,"y":6.3},{"d":3.80,"y":8.1},{"d":3.81,"y":5.6},{"d":3.82,"y":7.5},{"d":3.83,"y":7.9},{"d":3.84,"y":5.4},{"d":3.85,"y":7.2},{"d":3.86,"y":6.1},{"d":3.87,"y":8.3},{"d":3.88,"y":5.8},{"d":3.89,"y":7.0},{"d":3.90,"y":8.0},{"d":3.91,"y":5.5},{"d":3.92,"y":7.3},{"d":3.93,"y":6.6},{"d":3.94,"y":7.8},{"d":3.95,"y":6.0},{"d":3.96,"y":8.2},{"d":3.97,"y":5.5},{"d":3.98,"y":7.1},{"d":3.99,"y":7.7}
]
},
"layer":[
{"data":{"values":[{}]},
 "mark":{"type":"rect","fill":"white","stroke":"#222222","strokeWidth":1.5},
 "encoding":{
  "x":{"datum":2.71,"type":"quantitative","scale":{"domain":[0.08333,4.29222],"nice":false,"zero":false},"axis":null},
  "x2":{"datum":4.0878},
  "y":{"datum":97.72,"type":"quantitative","scale":{"domain":[0,100],"nice":false,"zero":false},"axis":null},
  "y2":{"datum":70.67}
 }
},
{"data":{"name":"obs"},
 "mark":{"type":"point","shape":"M-1,-1L1,1M-1,1L1,-1","filled":false,"size":256,"strokeWidth":1.3,"opacity":1},
 "encoding":{
  "x":{"field":"d","type":"quantitative","scale":{"domain":[0.08333,4.29222],"nice":false,"zero":false},
   "axis":{"orient":"bottom","values":[0.5,1,1.5,2,2.5,3,3.5,4],"format":".1f","grid":false,"tickSize":13,"tickWidth":2,"tickColor":"#111","domainColor":"#111","domainWidth":2,"labelFont":"Liberation Sans","labelFontSize":40,"labelColor":"#111","labelPadding":10,"title":"d space","titleFont":"Liberation Sans","titleFontSize":54,"titleFontWeight":"normal","titleColor":"#111","titleX":519,"titleY":120,"titleBaseline":"alphabetic","titleAlign":"center"}},
  "y":{"field":"y","type":"quantitative","scale":{"domain":[0,100],"nice":false,"zero":false},
   "axis":{"orient":"left","grid":false,"ticks":false,"labels":false,"domainColor":"#111","domainWidth":2,"title":"Normalized Intensity","titleFont":"Liberation Sans","titleFontSize":53,"titleFontWeight":"normal","titleColor":"#111","titleAngle":270,"titleX":-71,"titleY":316,"titleBaseline":"middle","titleAlign":"center"}},
  "color":{"datum":"YOBS","scale":{"range":["#000000"]},
   "legend":{"orient":"none","legendX":646,"legendY":32,"title":null,"padding":0,"labelFont":"Liberation Sans","labelFontSize":42,"labelColor":"#111","labelOffset":42,"symbolSize":324,"symbolStrokeWidth":1.3}}
 }
},
{"data":{"name":"calc"},
 "mark":{"type":"line","strokeWidth":4},
 "encoding":{
  "x":{"field":"d","type":"quantitative","scale":{"domain":[0.08333,4.29222],"nice":false,"zero":false},
   "axis":{"orient":"bottom","values":[0.0833,0.1667,0.25,0.3333,0.4167,0.5,0.5833,0.6667,0.75,0.8333,0.9167,1.0,1.0833,1.1667,1.25,1.3333,1.4167,1.5,1.5833,1.6667,1.75,1.8333,1.9167,2.0,2.0833,2.1667,2.25,2.3333,2.4167,2.5,2.5833,2.6667,2.75,2.8333,2.9167,3.0,3.0833,3.1667,3.25,3.3333,3.4167,3.5,3.5833,3.6667,3.75,3.8333,3.9167,4.0,4.0833,4.1667,4.25],"grid":false,"labels":false,"domain":false,"tickSize":7,"tickWidth":2,"tickColor":"#111","title":null}},
  "y":{"field":"y","type":"quantitative","scale":{"domain":[0,100],"nice":false,"zero":false},"axis":null},
  "color":{"datum":"YCALC","scale":{"range":["#ee1111"]},
   "legend":{"orient":"none","legendX":614,"legendY":53,"title":null,"padding":0,"labelFont":"Liberation Sans","labelFontSize":42,"labelColor":"#111","labelOffset":12,"symbolType":"stroke","symbolSize":10000,"symbolStrokeWidth":3.5}}
 }
},
{"data":{"name":"diff"},
 "mark":{"type":"line","strokeWidth":1.2},
 "encoding":{
  "x":{"field":"d","type":"quantitative","scale":{"domain":[0.08333,4.29222],"nice":false,"zero":false},
   "axis":{"orient":"top","grid":false,"ticks":false,"labels":false,"domain":true,"domainColor":"#111","domainWidth":2,"title":null}},
  "y":{"field":"y","type":"quantitative","scale":{"domain":[0,100],"nice":false,"zero":false},"axis":null},
  "color":{"datum":"YDIFF","scale":{"range":["#2fdc2f"]},
   "legend":{"orient":"none","legendX":614,"legendY":103,"title":null,"padding":0,"labelFont":"Liberation Sans","labelFontSize":42,"labelColor":"#111","labelOffset":12,"symbolType":"stroke","symbolSize":10000,"symbolStrokeWidth":1.6,"symbolOpacity":0.45}}
 }
}
],
"resolve":{"axis":{"x":"independent","y":"independent"},"scale":{"color":"independent"}}
}
